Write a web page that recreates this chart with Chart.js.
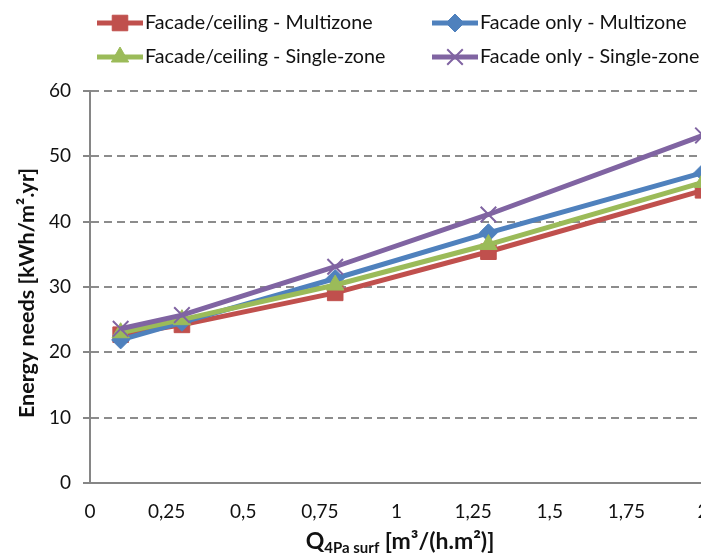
<!DOCTYPE html>
<html>
<head>
<meta charset="utf-8">
<script src="https://cdn.jsdelivr.net/npm/chart.js@4/dist/chart.umd.min.js"></script>
<style>
  html, body { margin: 0; padding: 0; background: #fff; overflow: hidden; }
  #wrap { width: 701px; height: 556px; overflow: hidden; }
</style>
</head>
<body>
<div id="wrap"><canvas id="chart" width="730" height="556"></canvas></div>
<script>
const flowRates = [0.1, 0.3, 0.8, 1.3, 2];
const ceilingMulti = [22.7, 24.2, 29.1, 35.4, 44.8];
const facadeMulti = [21.9, 24.6, 31.3, 38.3, 47.5];
const ceilingSingle = [23.0, 25.0, 30.3, 36.5, 46.0];
const facadeSingle = [23.6, 25.7, 33.1, 41.1, 53.2];
const seriesNames = [
  "Facade/ceiling - Multizone",
  "Facade only - Multizone",
  "Facade/ceiling - Single-zone",
  "Facade only - Single-zone",
];
const yTitle = "Energy needs [kWh/m\u00b2.yr]";

const FONT = "Lato, 'Open Sans', sans-serif";
const AXIS_GREY = "#868686";

const SERIES = [
  { values: ceilingMulti, color: "#c0504d", style: "rect", radius: 11 },
  { values: facadeMulti, color: "#4f81bd", style: "rectRot", radius: 9 },
  { values: ceilingSingle, color: "#9bbb59", style: "triangle", radius: 10 },
  { values: facadeSingle, color: "#8064a2", style: "crossRot", radius: 11 },
];

function toPoints(values) {
  return values.map((v, i) => ({ x: flowRates[i], y: v }));
}

// legend laid out like the Excel one: two columns, two rows
const legendPlugin = {
  id: "excelLegend",
  afterDraw(chart) {
    const ctx = chart.ctx;
    const cols = [97, 432];
    const rows = [23, 57];
    chart.data.datasets.forEach((ds, i) => {
      const x = cols[i % 2];
      const y = rows[Math.floor(i / 2)];
      ctx.save();
      ctx.strokeStyle = ds.borderColor;
      ctx.lineWidth = 5;
      ctx.beginPath();
      ctx.moveTo(x, y);
      ctx.lineTo(x + 46, y);
      ctx.stroke();
      ctx.fillStyle = ds.borderColor;
      ctx.strokeStyle = ds.borderColor;
      ctx.lineWidth = ds.pointStyle === "crossRot" ? 2 : 1;
      Chart.helpers.drawPoint(ctx, {
        pointStyle: ds.pointStyle,
        radius: ds.pointRadius,
        borderWidth: ctx.lineWidth,
        rotation: 0,
      }, x + 23, y);
      ctx.fillStyle = "#111";
      ctx.font = "19.7px " + FONT;
      ctx.textAlign = "left";
      ctx.textBaseline = "middle";
      ctx.fillText(ds.label, x + 48, y);
      ctx.restore();
    });
  },
};

// axis titles (x title needs a subscript)
const titlePlugin = {
  id: "axisTitles",
  afterDraw(chart) {
    const ctx = chart.ctx;
    const area = chart.chartArea;
    ctx.save();
    ctx.fillStyle = "#111";
    ctx.translate(27, (area.top + area.bottom) / 2 + 6);
    ctx.rotate(-Math.PI / 2);
    ctx.font = "bold 21.5px " + FONT;
    ctx.textAlign = "center";
    ctx.textBaseline = "middle";
    ctx.fillText(yTitle, 0, 0);
    ctx.restore();

    ctx.save();
    ctx.fillStyle = "#111";
    ctx.textBaseline = "alphabetic";
    ctx.textAlign = "left";
    const big = "bold 23px " + FONT;
    const small = "bold 15px " + FONT;
    const parts = [
      { t: "Q", f: big, dy: 0 },
      { t: "4Pa surf", f: small, dy: 4 },
      { t: " [m\u00b3/(h.m\u00b2)]", f: big, dy: 0 },
    ];
    let total = 0;
    parts.forEach((p) => { ctx.font = p.f; p.w = ctx.measureText(p.t).width; total += p.w; });
    let x = 400 - total / 2;
    const base = 549;
    parts.forEach((p) => {
      ctx.font = p.f;
      ctx.fillText(p.t, x, base + p.dy);
      x += p.w;
    });
    ctx.restore();
  },
};

const datasets = SERIES.map((s, i) => ({
  label: seriesNames[i],
  data: toPoints(s.values),
  borderColor: s.color,
  backgroundColor: s.color,
  borderWidth: 5,
  pointStyle: s.style,
  pointRadius: s.radius,
  pointBorderWidth: s.style === "crossRot" ? 2 : 1,
  pointBackgroundColor: s.color,
  pointBorderColor: s.color,
  tension: 0,
  clip: false,
  order: SERIES.length - i, // later series drawn on top, as in Excel
}));

new Chart(document.getElementById("chart"), {
  type: "line",
  data: { datasets },
  options: {
    responsive: false,
    animation: false,
    devicePixelRatio: 1,
    layout: { padding: { left: 0, right: 27, top: 91, bottom: 0 } },
    plugins: { legend: { display: false }, tooltip: { enabled: false } },
    scales: {
      x: {
        type: "linear",
        min: 0,
        max: 2,
        afterFit: (scale) => { scale.height = 73; },
        grid: { display: false, drawTicks: false },
        border: { display: true, color: AXIS_GREY, width: 2 },
        ticks: {
          stepSize: 0.25,
          padding: 17,
          color: "#111",
          font: { family: FONT, size: 19 },
          maxRotation: 0,
          autoSkip: false,
          callback: (v) => String(v).replace(".", ","),
        },
      },
      y: {
        min: 0,
        max: 60,
        afterFit: (scale) => { scale.width = 90; },
        grid: {
          color: "#8c8c8c",
          lineWidth: 2,
          tickLength: 7,
          tickColor: AXIS_GREY,
          tickBorderDash: [],
        },
        border: { display: true, color: AXIS_GREY, width: 2, dash: [8, 5] },
        ticks: {
          stepSize: 10,
          padding: 12,
          color: "#111",
          font: { family: FONT, size: 19 },
        },
      },
    },
  },
  plugins: [legendPlugin, titlePlugin],
});
</script>
</body>
</html>
